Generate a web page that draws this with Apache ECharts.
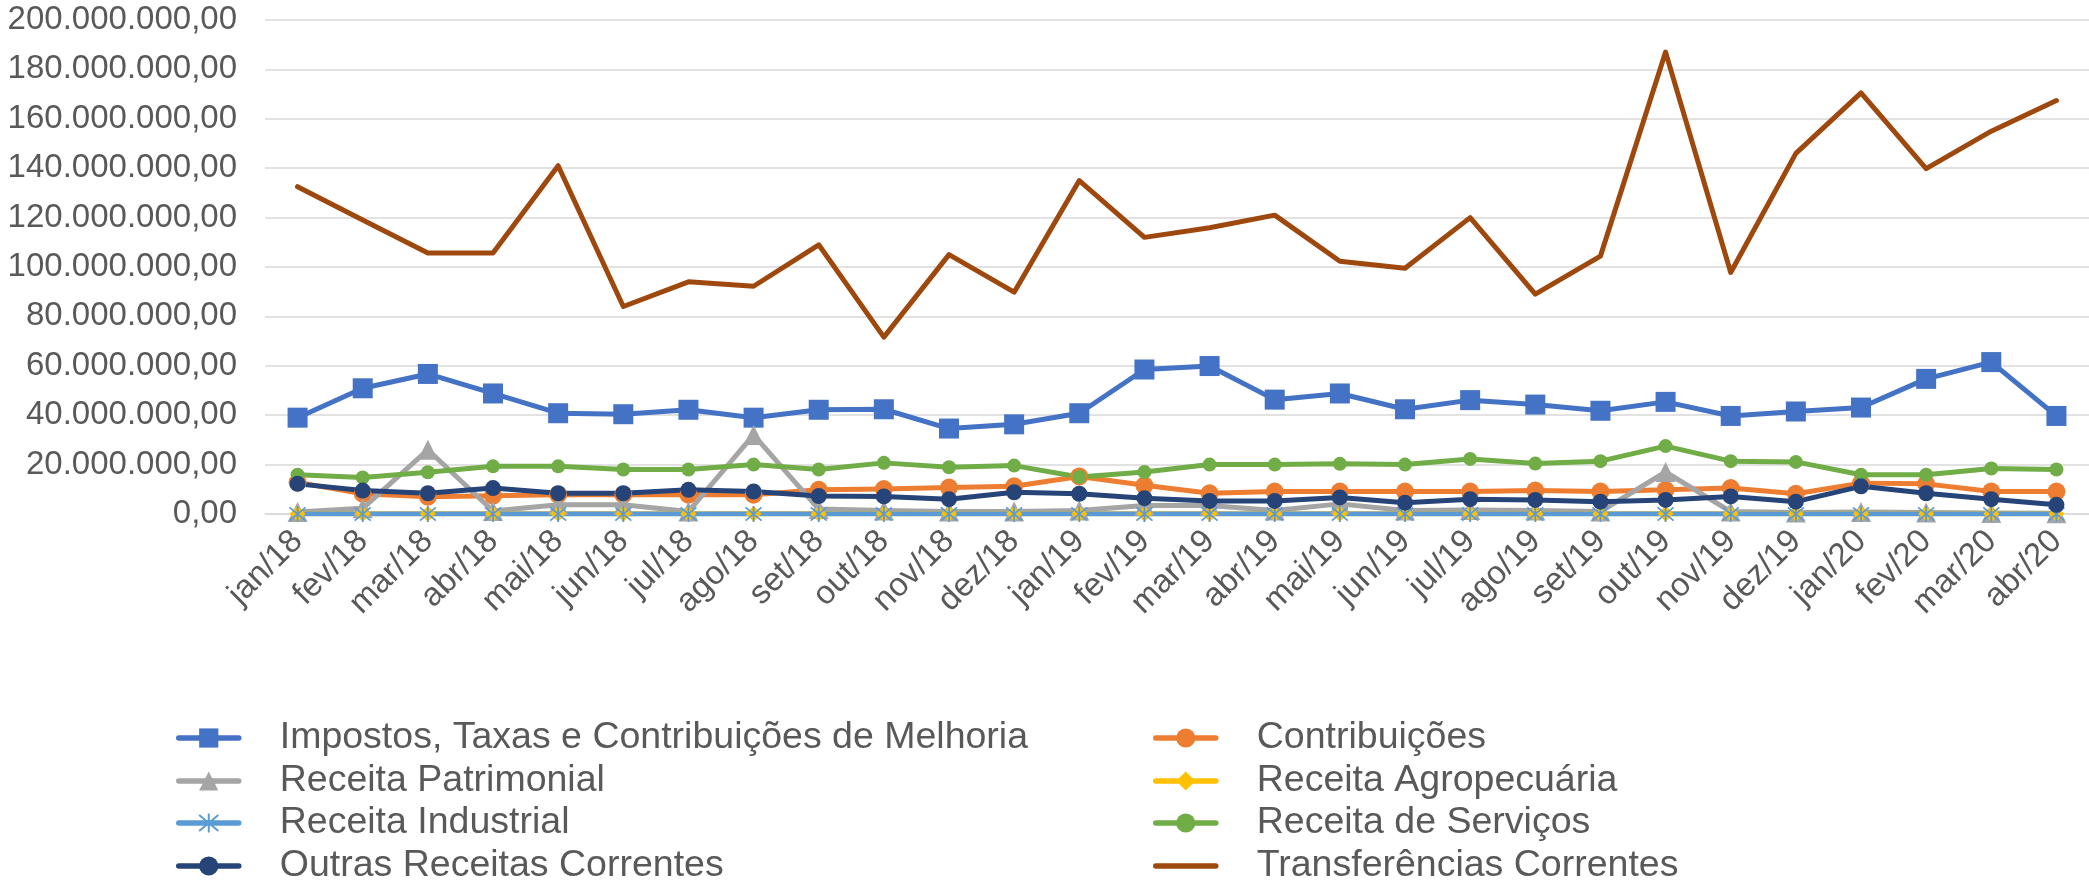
<!DOCTYPE html>
<html>
<head>
<meta charset="utf-8">
<script src="https://cdn.jsdelivr.net/npm/echarts@6/dist/echarts.min.js"></script>
<style>html,body{margin:0;padding:0;background:#fff}#c{width:2089px;height:883px}</style>
</head>
<body>
<div id="c"></div>
<script>
// values in millions of R$
const categories = ['jan/18','fev/18','mar/18','abr/18','mai/18','jun/18','jul/18','ago/18','set/18','out/18','nov/18','dez/18',
  'jan/19','fev/19','mar/19','abr/19','mai/19','jun/19','jul/19','ago/19','set/19','out/19','nov/19','dez/19',
  'jan/20','fev/20','mar/20','abr/20'];
const impostos = [39.0,50.9,56.7,48.8,40.8,40.4,42.2,39.0,42.2,42.4,34.6,36.3,40.8,58.5,59.9,46.3,48.8,42.4,46.1,44.3,41.8,45.4,39.7,41.5,43.1,54.7,61.5,39.7];
const contribuicoes = [12.8,8.2,7.0,7.4,7.8,7.8,7.8,7.8,9.8,10.1,10.7,11.2,15.2,11.6,8.4,9.1,9.1,9.1,9.1,9.5,9.1,9.8,10.5,8.2,12.5,12.2,9.1,9.1];
const patrimonial = [0.8,2.3,26.0,1.2,3.7,3.7,1.0,32.0,2.0,1.4,1.0,1.0,1.4,3.4,3.4,1.4,4.1,1.4,1.6,1.4,1.0,17.0,1.0,0.6,0.8,0.6,0.4,0.3];
const agropecuaria = [0.1,0.1,0.1,0.1,0.1,0.1,0.1,0.1,0.1,0.1,0.1,0.1,0.1,0.1,0.1,0.1,0.1,0.1,0.1,0.1,0.1,0.1,0.1,0.1,0.1,0.1,0.1,0.1];
const industrial = [0,0,0,0,0,0,0,0,0,0,0,0,0,0,0,0,0,0,0,0,0,0,0,0,0,0,0,0];
const servicos = [15.9,14.8,16.9,19.3,19.3,18.0,18.0,20.0,18.0,20.7,18.9,19.6,15.0,17.0,20.0,20.0,20.3,20.0,22.3,20.4,21.4,27.5,21.4,21.1,15.9,15.9,18.4,18.0];
const outras = [12.2,9.5,8.4,10.5,8.4,8.4,9.8,9.1,7.3,7.1,6.0,8.8,8.2,6.4,5.3,5.3,6.7,4.6,6.0,5.7,5.0,5.7,7.1,5.0,11.2,8.4,6.0,3.7];
const transferencias = [132.5,119.0,105.7,105.7,141.0,84.0,94.0,92.2,109.0,71.6,105.0,89.8,135.0,112.0,115.9,121.0,102.3,99.5,120.0,89.0,104.4,187.0,97.8,146.0,170.5,139.8,155.0,167.4];
const yTicks = {min: 0, max: 200000000, interval: 20000000};

const FONT = '"Liberation Sans", Arial, sans-serif';
const TXT = '#595959';
const toUnits = a => a.map(v => v * 1e6);
function fmt(v) {
  const s = Math.round(v).toString().replace(/\B(?=(\d{3})+(?!\d))/g, '.');
  return s + ',00';
}
const asterisk = 'path://M0,0L10,10M10,0L0,10M5,-1L5,11';

function mk(name, data, color, symbol, size, extra) {
  return Object.assign({
    name, type: 'line', data: toUnits(data),
    symbol: symbol, symbolSize: size, showSymbol: symbol !== 'none',
    lineStyle: {color, width: 5, cap: 'round', join: 'round'},
    itemStyle: {color},
    emphasis: {disabled: true},
    animation: false,
    z: 2
  }, extra || {});
}

const series = [
  mk('Impostos, Taxas e Contribuições de Melhoria', impostos, '#4472C4', 'rect', 20),
  mk('Contribuições', contribuicoes, '#ED7D31', 'circle', 18),
  mk('Receita Patrimonial', patrimonial, '#A5A5A5', 'triangle', 20),
  mk('Receita Agropecuária', agropecuaria, '#FFC000', 'diamond', 16),
  mk('Receita Industrial', industrial, '#5B9BD5', asterisk, 16, {
    itemStyle: {color: 'rgba(0,0,0,0)', borderColor: '#5B9BD5', borderWidth: 1.8}
  }),
  mk('Receita de Serviços', servicos, '#70AD47', 'circle', 14),
  mk('Outras Receitas Correntes', outras, '#264478', 'circle', 16),
  mk('Transferências Correntes', transferencias, '#9E480E', 'none', 0)
];

// legend layout: two columns, four rows (reference order)
const legendCols = [176, 1153];
const legendRowCenters = [738, 781, 823, 866];
const legendOrder = [
  ['Impostos, Taxas e Contribuições de Melhoria', 'Contribuições'],
  ['Receita Patrimonial', 'Receita Agropecuária'],
  ['Receita Industrial', 'Receita de Serviços'],
  ['Outras Receitas Correntes', 'Transferências Correntes']
];
const ITEM_H = 24, LINE_H = 38;
const legends = [];
legendOrder.forEach((row, r) => {
  row.forEach((name, c) => {
    const lg = {
      left: legendCols[c],
      top: legendRowCenters[r] - LINE_H / 2,
      padding: 0,
      orient: 'horizontal',
      itemWidth: 60,
      itemHeight: ITEM_H,
      selectedMode: false,
      data: [name],
      lineStyle: {width: 5.5},
      textStyle: {fontFamily: FONT, fontSize: 37.5, color: TXT, lineHeight: LINE_H, padding: [0, 0, 0, 36]}
    };
    if (name === 'Transferências Correntes') lg.itemStyle = {opacity: 0};
    legends.push(lg);
  });
});

const chart = echarts.init(document.getElementById('c'), null, {renderer: 'canvas'});
chart.setOption({
  backgroundColor: '#ffffff',
  animation: false,
  grid: {left: 265, right: -3, top: 20, bottom: 369},
  legend: legends,
  xAxis: {
    type: 'category', data: categories, boundaryGap: true,
    axisLine: {show: true, lineStyle: {color: '#D9D9D9', width: 1.5}},
    axisTick: {show: false},
    axisLabel: {rotate: 45, interval: 0, margin: 22, fontFamily: FONT, fontSize: 33, color: TXT}
  },
  yAxis: {
    type: 'value', min: yTicks.min, max: yTicks.max, interval: yTicks.interval,
    axisLine: {show: false}, axisTick: {show: false},
    splitLine: {lineStyle: {color: '#D9D9D9', width: 1.5}},
    axisLabel: {margin: 28, fontFamily: FONT, fontSize: 33, color: TXT, formatter: fmt}
  },
  series
});
</script>
</body>
</html>
